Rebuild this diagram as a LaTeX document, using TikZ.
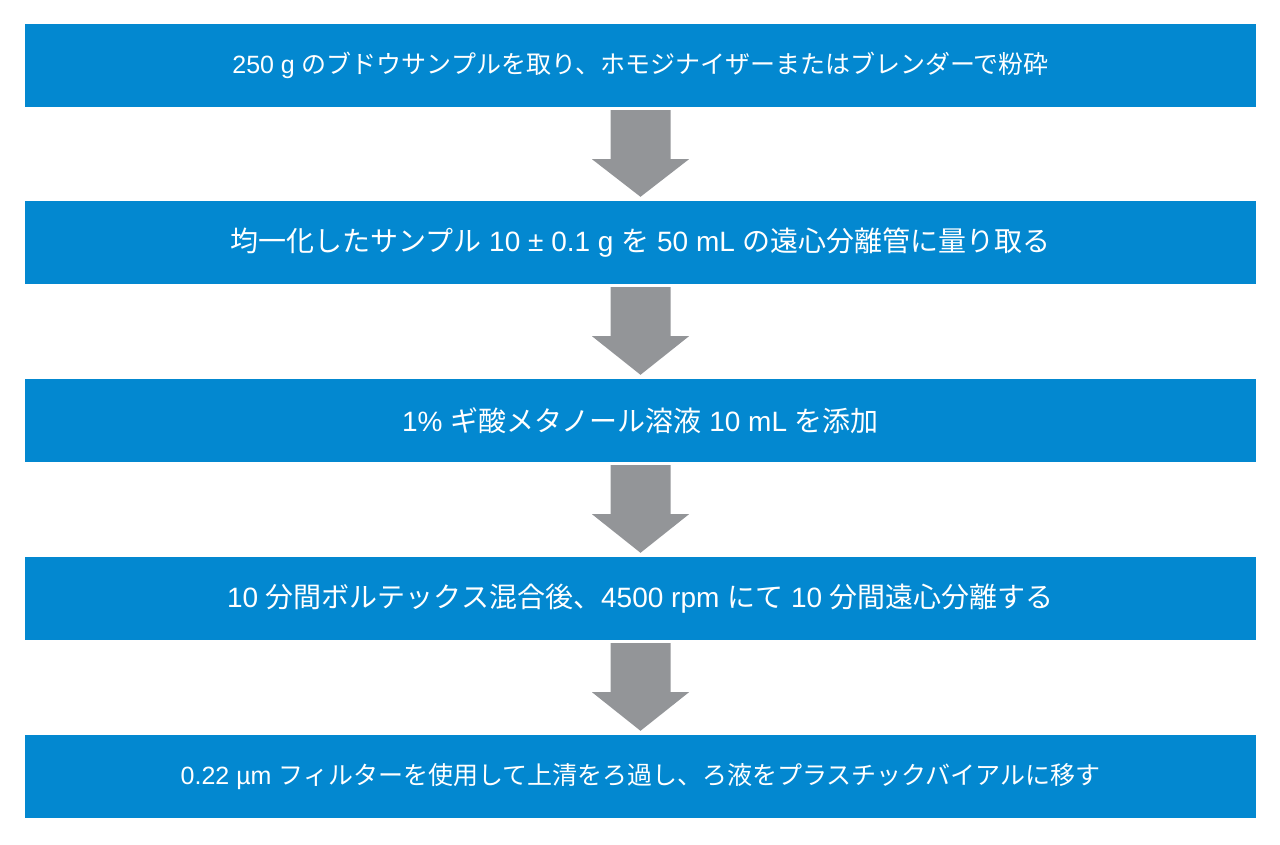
\documentclass[tikz,border=0pt]{standalone}
\usepackage{fontspec}
\setmainfont{Liberation Sans}
\newfontfamily\jp{Noto Sans CJK JP}
\usetikzlibrary{calc}
\definecolor{boxblue}{RGB}{3,136,208}
\definecolor{arrowgray}{RGB}{147,149,152}
\tikzset{
  stepbox/.style={fill=boxblue, text=white, minimum width=1231pt, minimum height=83pt,
    inner sep=0pt, font=\fontsize{25}{30}\selectfont},
  bigtext/.style={font=\fontsize{28}{33}\selectfont},
  flowarrow/.style={fill=arrowgray, draw=none}
}
\begin{document}
\begin{tikzpicture}[x=1pt,y=1pt]
\path[use as bounding box] (0,0) rectangle (1280,-844);
\node[stepbox] (b1) at (640.5,-65.5) {250 g {\jp のブドウサンプルを取り、ホモジナイザーまたはブレンダーで粉砕}};
\node[stepbox,bigtext] (b2) at (640.5,-242.5) {{\jp 均一化したサンプル} 10 ± 0.1 g {\jp を} 50 mL {\jp の遠心分離管に量り取る}};
\node[stepbox,bigtext] (b3) at (640.5,-420.5) {1\% {\jp ギ酸メタノール溶液} 10 mL {\jp を添加}};
\node[stepbox,bigtext] (b4) at (640.5,-598.5) {10 {\jp 分間ボルテックス混合後、}4500 rpm {\jp にて} 10 {\jp 分間遠心分離する}};
\node[stepbox] (b5) at (640.5,-776.5) {0.22 µm {\jp フィルターを使用して上清をろ過し、ろ液をプラスチックバイアルに移す}};
\foreach \a/\b in {b1/b2,b2/b3,b3/b4,b4/b5}{
  \fill[flowarrow] ($(\a.south)+(-30,-3)$) -- ($(\a.south)+(30,-3)$) -- ($(\a.south)+(30,-52)$)
    -- ($(\a.south)+(48.5,-52)$) -- ($(\b.north)+(0,4)$) -- ($(\a.south)+(-48.5,-52)$)
    -- ($(\a.south)+(-30,-52)$) -- cycle;
}
\end{tikzpicture}
\end{document}
